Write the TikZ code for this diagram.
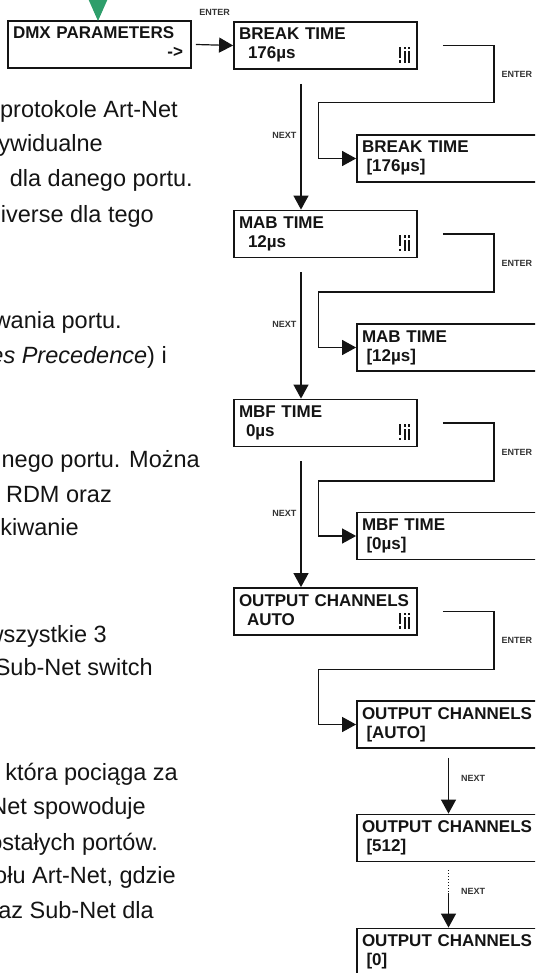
\documentclass[tikz,border=0pt]{standalone}
\usepackage{fontspec}
\setmainfont{Liberation Sans}
\usetikzlibrary{arrows.meta,positioning,calc}
\definecolor{ink}{HTML}{141414}
\definecolor{keygray}{HTML}{333333}
\definecolor{markgreen}{HTML}{2E9E6B}
\tikzset{
  lcd/.style={
    draw=ink,
    line width=1.8pt,
    minimum width=183pt,
    minimum height=47pt,
    text width=173pt,
    inner xsep=5pt,
    inner ysep=0pt,
    align=left,
    font=\fontsize{17}{19}\selectfont\bfseries,
    text=ink
  },
  conn/.style={
    draw=ink,
    line width=1.2pt,
    -{Triangle[length=14pt,width=15pt]}
  },
  key/.style={
    font=\fontsize{9}{10}\selectfont\bfseries,
    text=keygray,
    inner sep=0pt
  },
  prose/.style={
    anchor=base east,
    font=\fontsize{23.5}{28}\selectfont,
    text=ink,
    inner sep=0pt
  }
}
% two display lines, second one indented
\newcommand{\lcdtext}[3][9pt]{\rule{0pt}{12pt}#2\\\hspace*{#1}#3\rule[-4pt]{0pt}{4pt}}
% small bar glyph in the lower right corner of a display
\newcommand{\lcdicon}[1]{%
  \fill[ink] ([xshift=-19pt,yshift=12pt]#1.south east) rectangle ++(2pt,11pt);
  \fill[ink] ([xshift=-19pt,yshift=7pt]#1.south east) rectangle ++(2pt,2.5pt);
  \fill[ink] ([xshift=-14pt,yshift=20.5pt]#1.south east) rectangle ++(2pt,2.5pt);
  \fill[ink] ([xshift=-14pt,yshift=7pt]#1.south east) rectangle ++(2pt,11.5pt);
  \fill[ink] ([xshift=-10pt,yshift=20.5pt]#1.south east) rectangle ++(2pt,2.5pt);
  \fill[ink] ([xshift=-10pt,yshift=7pt]#1.south east) rectangle ++(2pt,11.5pt);
}

\begin{document}
\begin{tikzpicture}[x=1pt,y=-1pt]
  \useasboundingbox (0,0) rectangle (535,973);
  \clip (0,0) rectangle (535,973);

  % manual text running in from the left
  \node[prose] (p1) at (178,118) {protokole Art-Net};
  \node[prose] (p2) at (103,152) {ywidualne};
  \node[prose] (p3) at (193,187) {dla danego portu.};
  \node[prose] (p4) at (154,223) {iverse dla tego};
  \node[prose] (p5) at (122,328) {wania portu.};
  \node[prose] (p6) at (167,363) {{\itshape es Precedence}) i};
  \node[prose] (p7) at (200,467) {nego portu. Można};
  \node[prose] (p8) at (112,502) {RDM oraz};
  \node[prose] (p9) at (79,535) {kiwanie};
  \node[prose] (p10) at (107,642) {wszystkie 3};
  \node[prose] (p11) at (153,675) {Sub-Net switch};
  \node[prose] (p12) at (178,780) {która pociąga za};
  \node[prose] (p13) at (146,814) {Net spowoduje};
  \node[prose] (p14) at (158,850) {ostałych portów.};
  \node[prose] (p15) at (176,883) {ołu Art-Net, gdzie};
  \node[prose] (p16) at (154,918) {az Sub-Net dla};

  % menu screens
  \node[lcd] (dmx) at (99.5,44.5)
    {\rule{0pt}{12pt}DMX PARAMETERS\\\mbox{}\hfill->\hspace*{3pt}\rule[-4pt]{0pt}{4pt}};
  \fill[markgreen] (86.5,-5) -- (109.5,-5) -- (98,21) -- cycle;

  \node[lcd] (brk) at (325.5,45.5) {\lcdtext{BREAK TIME}{176µs}};
  \node[lcd] (mab) at (325.5,234) {\lcdtext{MAB TIME}{12µs}};
  \node[lcd] (mbf) at (325.5,423) {\lcdtext[7pt]{MBF TIME}{0µs}};
  \node[lcd] (chan) at (325.5,611.5) {\lcdtext[8pt]{OUTPUT CHANNELS}{AUTO}};
  \lcdicon{brk}
  \lcdicon{mab}
  \lcdicon{mbf}
  \lcdicon{chan}

  \node[lcd] (brkset) at (448.5,158.5) {\lcdtext[4.5pt]{BREAK TIME}{[176µs]}};
  \node[lcd] (mabset) at (448.5,347.5) {\lcdtext[4.5pt]{MAB TIME}{[12µs]}};
  \node[lcd] (mbfset) at (448.5,536) {\lcdtext[4.5pt]{MBF TIME}{[0µs]}};
  \node[lcd] (chanset) at (448.5,724.5) {\lcdtext[4.5pt]{OUTPUT CHANNELS}{[AUTO]}};
  \node[lcd] (chanmax) at (448.5,838) {\lcdtext[4.5pt]{OUTPUT CHANNELS}{[512]}};
  \node[lcd] (chanzero) at (448.5,952) {\lcdtext[4.5pt]{OUTPUT CHANNELS}{[0]}};

  % ENTER steps
  \draw[conn] ([xshift=4pt]dmx.east) -- (brk.west)
    node[key, midway, above=29pt] {ENTER};
  \draw[conn] ([xshift=25pt]brk.east) -- ++(51,0) -- ++(0,57)
    node[key, midway, right=7pt] {ENTER} -| ([xshift=-38pt]brkset.west) -- (brkset.west);
  \draw[conn] ([xshift=25pt]mab.east) -- ++(51,0) -- ++(0,58)
    node[key, midway, right=7pt] {ENTER} -| ([xshift=-38pt]mabset.west) -- (mabset.west);
  \draw[conn] ([xshift=25pt]mbf.east) -- ++(51,0) -- ++(0,58)
    node[key, midway, right=7pt] {ENTER} -| ([xshift=-38pt]mbfset.west) -- (mbfset.west);
  \draw[conn] ([xshift=25pt]chan.east) -- ++(51,0) -- ++(0,58)
    node[key, midway, right=7pt] {ENTER} -| ([xshift=-38pt]chanset.west) -- (chanset.west);

  % NEXT steps
  \draw[conn] ([xshift=-24.5pt,yshift=-14pt]brk.south) -- ([xshift=-24.5pt]mab.north)
    node[key, pos=0.41, left=4pt] {NEXT};
  \draw[conn] ([xshift=-24.5pt,yshift=-14pt]mab.south) -- ([xshift=-24.5pt]mbf.north)
    node[key, pos=0.41, left=4pt] {NEXT};
  \draw[conn] ([xshift=-24.5pt,yshift=-14pt]mbf.south) -- ([xshift=-24.5pt]chan.north)
    node[key, pos=0.41, left=4pt] {NEXT};
  \draw[conn] ([yshift=-9pt]chanset.south) -- (chanmax.north)
    node[key, pos=0.36, right=12pt] {NEXT};
  \draw[draw=ink, line width=1pt, dotted] ([yshift=-8pt]chanmax.south) -- ++(0,23)
    node[key, pos=0.9, right=12pt] {NEXT} coordinate (dotend);
  \draw[conn] (dotend) -- (chanzero.north);
\end{tikzpicture}
\end{document}
